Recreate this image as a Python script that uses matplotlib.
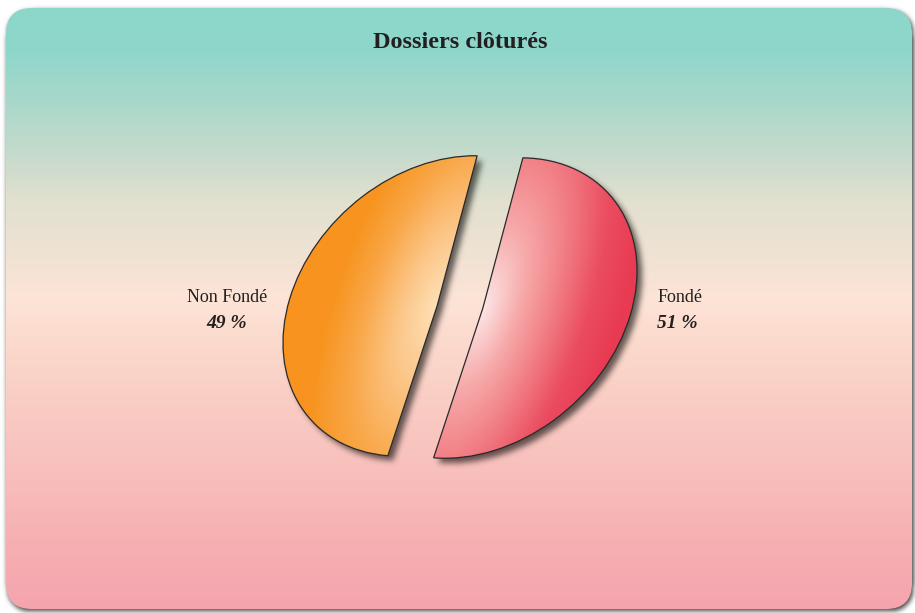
import numpy as np
import matplotlib
matplotlib.use("Agg")
import matplotlib.pyplot as plt
from matplotlib.patches import FancyBboxPatch
from matplotlib.transforms import Affine2D
from matplotlib.colors import LinearSegmentedColormap

# data
title = "Dossiers clôturés"
labels = ["Non Fondé", "Fondé"]
values = [49, 51]
pct_labels = ["49 %", "51 %"]

# gradient stops of the slices (light at the cut -> dark at the rim)
slice_stops = [
    ["#fee0b6", "#fcc586", "#f9a748", "#f7941f", "#f7931e"],
    ["#fde6e6", "#f7aaaa", "#f17c83", "#eb4c60", "#e83a52"],
]
# background stops, top -> bottom
bg_pos = [0.0, 0.07, 0.155, 0.27, 0.32, 0.40, 0.485, 0.57, 0.685, 0.785, 0.885, 1.0]
bg_col = ["#8cd7cb", "#8fd6ca", "#a9d8ca", "#cfdccd", "#e2e0cf", "#eee2d3",
          "#fde4d7", "#fbd8cb", "#f9c9c2", "#f8bebb", "#f6b0b2", "#f5a4ae"]

W, H = 915, 613
fig = plt.figure(figsize=(W / 100, H / 100), dpi=100, facecolor="white")
ax = fig.add_axes([0, 0, 1, 1])

xs = np.arange(W) + 0.5
ys = H - (np.arange(H) + 0.5)
X, Y = np.meshgrid(xs, ys)
pts = np.column_stack([X.ravel(), Y.ravel()])


def mask_of(path):
    return path.contains_points(pts).reshape(H, W).astype(float)


def blur(m, s):
    r = int(3 * s)
    k = np.exp(-0.5 * (np.arange(-r, r + 1) / s) ** 2)
    k /= k.sum()
    p = np.pad(m, r)
    out = np.zeros_like(p)
    for i, w in enumerate(k):
        out += w * np.roll(p, i - r, axis=0)
    p = out
    out = np.zeros_like(p)
    for i, w in enumerate(k):
        out += w * np.roll(p, i - r, axis=1)
    return out[r:-r, r:-r]


def shadow_img(mask, alpha):
    img = np.zeros((H, W, 4))
    img[..., 3] = np.clip(mask * alpha, 0, 1)
    return img


# rounded panel
panel = FancyBboxPatch((6, 4), 906, 601, boxstyle="round,pad=0,rounding_size=26",
                       facecolor="none", edgecolor="none")
ax.add_patch(panel)
pm = mask_of(panel.get_path().transformed(Affine2D().translate(1.5, -2.5)))
ax.imshow(shadow_img(blur(pm, 2.5), 0.75), extent=(0, W, 0, H), origin="upper", zorder=0)

bg_cmap = LinearSegmentedColormap.from_list("bg", list(zip(bg_pos, bg_col)))
tv = np.clip((H - ys - 8) / 601, 0, 1)
bg = bg_cmap(np.repeat(tv[:, None], W, axis=1))
bim = ax.imshow(bg, extent=(0, W, 0, H), origin="upper", zorder=1)
bim.set_clip_path(panel)

# pie, drawn in unit space then squashed / rotated into an ellipse
cx, cy = 460, 306
aff = Affine2D().scale(170, 132).rotate_deg(42).translate(cx, cy)
wedges, _ = ax.pie(values, startangle=40, counterclock=True, explode=[0.155, 0.155],
                   radius=1, center=(0, 0),
                   wedgeprops=dict(facecolor="none", edgecolor="#2a2a2a", linewidth=0.9, zorder=4))

shadow = np.zeros((H, W))
U = aff.inverted().transform(pts)
for w, stops in zip(wedges, slice_stops):
    w.set_transform(aff + ax.transData)
    wp = w.get_path().transformed(aff)
    shadow = np.maximum(shadow, mask_of(wp.transformed(Affine2D().translate(5, -5))))
    mid = np.deg2rad((w.theta1 + w.theta2) / 2)
    bis = np.array([np.cos(mid), np.sin(mid)])
    cut = np.array([-np.sin(mid), np.cos(mid)])
    du = U - np.array(w.center)
    along = np.clip(du @ bis, 0, None)
    across = du @ cut
    t = np.clip(np.sqrt(along ** 2 + (0.45 * across) ** 2) / 0.95, 0, 1)
    cm = LinearSegmentedColormap.from_list("s", stops)
    im = ax.imshow(cm(t).reshape(H, W, 4), extent=(0, W, 0, H), origin="upper", zorder=3)
    im.set_clip_path(w)

ax.imshow(shadow_img(blur(shadow, 3.0), 0.6), extent=(0, W, 0, H), origin="upper", zorder=2)

# labels
serif = "Liberation Serif"
tc = "#231f20"
for i, w in enumerate(wedges):
    ext = w.get_path().transformed(aff).get_extents()
    if i == 0:
        lx, ha = ext.x0 - 56, "center"
    else:
        lx, ha = ext.x1 + 20, "left"
    ax.text(lx, cy + 10, labels[i], ha=ha, va="center", fontsize=13, family=serif,
            color=tc, zorder=5)
    ax.text(lx, cy - 16, pct_labels[i], ha=ha, va="center", fontsize=14, family=serif,
            weight="bold", style="italic", color=tc, zorder=5)

ax.text(cx, 571, title, ha="center", va="center", fontsize=17.5, family=serif,
        weight="bold", color=tc, zorder=5)

ax.set_xlim(0, W)
ax.set_ylim(0, H)
ax.set_aspect("auto")
ax.axis("off")
fig.savefig("out.png", dpi=100, facecolor="white")
